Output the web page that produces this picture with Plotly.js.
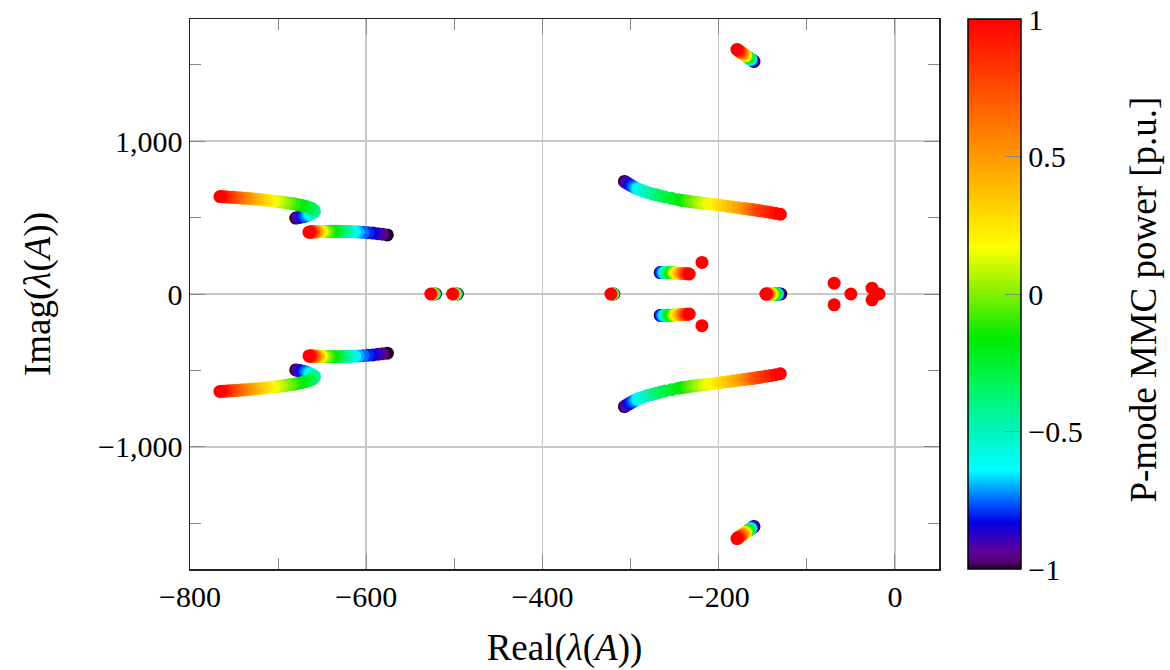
<!DOCTYPE html>
<html>
<head>
<meta charset="utf-8">
<script src="https://cdn.plot.ly/plotly-3.0.1.min.js"></script>
<style>html,body{margin:0;padding:0;background:#fff;}#chart{width:1170px;height:670px;}</style>
</head>
<body>
<div id="chart"></div>
<script>
// P-mode MMC power sweep values (colour variable)
const P41 = [-1,-0.95,-0.9,-0.85,-0.8,-0.75,-0.7,-0.65,-0.6,-0.55,-0.5,-0.45,-0.4,-0.35,-0.3,-0.25,-0.2,-0.15,-0.1,-0.05,0,
             0.05,0.1,0.15,0.2,0.25,0.3,0.35,0.4,0.45,0.5,0.55,0.6,0.65,0.7,0.75,0.8,0.85,0.9,0.95,1];
const P21 = [-1,-0.9,-0.8,-0.7,-0.6,-0.5,-0.4,-0.3,-0.2,-0.1,0,0.1,0.2,0.3,0.4,0.5,0.6,0.7,0.8,0.9,1];
const P5 = [-1,-0.5,0,0.5,1];

// Complex-pair branches (upper half; the lower half is the complex conjugate)
const A_re = [-680,-678,-676,-673.5,-671,-668.5,-666,-664,-662,-660.5,-659,-659,-660,-662,-665,-669,-673,-677.5,-682,-686.5,-691,
              -695.5,-700,-704.5,-709,-713.5,-718,-722.5,-727,-731,-735,-738.5,-742,-745.5,-749,-752,-755,-758,-761,-763.5,-766];
const A_im = [497,499,501,504,507,511,516,521,526,532,538,545,552,560,567,574,580,585,590,594,598,
              601.5,605,608,611,614,617,619.5,622,624,626,627.5,629,630.5,632,633,634,635,636,637,638];

const B_re = [-576,-581.5,-587,-592.5,-598,-603.5,-609,-613,-617,-619.5,-622,-624.5,-627,-629.5,-632,-634.5,-637,-639.5,-642,-644.5,-647,
              -648.5,-650,-651.3,-652.5,-653.5,-654.5,-655.3,-656,-656.8,-657.5,-658.3,-659,-659.8,-660.5,-661.3,-662,-662.8,-663.5,-664.3,-665];
const B_im = [387,391,395,398.5,401,403.5,405.5,407,408,408.5,409,409,409,409.5,410,410,410,410,410,409.5,409,
              409,409,408.5,408,408,408,408,408,407.5,407,407,407,407,407,406.5,406,406,406,405.5,405];

const C_re = [-307,-305.5,-304,-301.5,-299,-296.5,-294,-292,-290,-285.5,-281,-276,-271,-266,-261,-253.5,-246,-241,-236,-231.5,-227,
              -222,-217,-211.5,-206,-201,-196,-190,-184,-178,-172,-168.5,-165,-162,-159,-155.5,-152,-146.5,-141,-135.5,-130];
const C_im = [737,731,726,717,709,701,693,688,684,674,665,657,649,642,635,626,617,612.5,608,604.5,601,
              597.5,594,590.5,587,583,579,574.5,570,565,560,557.5,555,552.5,550,547,544,539,534,528,522];

const D_re = [-160,-161.2,-162.4,-163.2,-164,-164.7,-165.5,-166.3,-167.1,-167.9,-168.7,-169.5,-170.4,-171.2,-172,-173,-174.2,-175.4,-176.7,-178,-179.3];
const D_im = [1522,1527,1532,1535,1538,1541,1544,1548,1551,1554,1558,1561,1565,1568,1571,1575,1580,1585,1590,1596,1601];

const E_re = [-266.4,-265.6,-264.8,-263.2,-261,-259.5,-258,-256.5,-254.5,-252.5,-251,-249.5,-247.7,-246,-244,-242,-240.5,-239,-237,-235,-233.4];
const E_im = [140,140,140,140,140,139.5,139.5,139,139,138.5,138,137.5,137,136.5,136,135,134.5,134,133,132,131];

// Real eigenvalues
const F1_re = [-521.3,-522.5,-523.8,-525.2,-526.7];
const F2_re = [-496.5,-497.8,-499.2,-500.6,-502];
const F3_re = [-319,-319.8,-320.6,-321.5,-322.4];
const F4_re = [-129.5,-131.5,-132.7,-133.3,-134,-134.6,-135.2,-135.8,-136.5,-137.2,-138.5,-139.8,-141,-141.8,-142.6,-143.4,-144,-144.7,-145.3,-146,-146.5];

// Eigenvalues that barely move (seen at P = 1)
const S_re = [-219,-219,-69,-69,-50,-26,-26,-18];
const S_im = [207,-207,71,-71,0,38,-38,0];
const S_p  = [1,1,1,1,1,1,1,1];

// Axis ticks
const X_TICKS = [-800,-600,-400,-200,0];
const X_LABELS = ['\u2212800','\u2212600','\u2212400','\u2212200','0'];
const X_MINOR = [-700,-500,-300,-100];
const Y_TICKS = [-1000,0,1000];
const Y_LABELS = ['\u22121,000','0','1,000'];
const Y_MINOR = [-1500,-500,500,1500];
const C_TICKS = [-1,-0.5,0,0.5,1];
const C_LABELS = ['\u22121','\u22120.5','0','0.5','1'];

const xs = [], ys = [], cs = [];
function addBranch(re, im, p) {
  for (let i = 0; i < re.length; i++) { xs.push(re[i]); ys.push(im[i]); cs.push(p[i]); }
}
function addPair(re, im, p) {
  addBranch(re, im, p);
  addBranch(re, im.map(v => -v), p);
}
const zeros5 = P5.map(() => 0), zeros21 = P21.map(() => 0);
addPair(A_re, A_im, P41);
addPair(B_re, B_im, P41);
addPair(C_re, C_im, P41);
addPair(D_re, D_im, P21);
addPair(E_re, E_im, P21);
addBranch(F1_re, zeros5, P5);
addBranch(F2_re, zeros5, P5);
addBranch(F3_re, zeros5, P5);
addBranch(F4_re, zeros21, P21);
addBranch(S_re, S_im, S_p);

const cscale = [
  [0,'rgb(30,0,40)'],[0.012,'rgb(85,0,110)'],[0.035,'rgb(90,0,160)'],[0.085,'rgb(0,0,230)'],
  [0.12,'rgb(0,90,255)'],[0.18,'rgb(0,255,255)'],[0.25,'rgb(0,245,190)'],[0.335,'rgb(0,245,90)'],
  [0.42,'rgb(0,235,0)'],[0.5,'rgb(130,240,0)'],[0.585,'rgb(255,255,0)'],[0.77,'rgb(255,140,0)'],[1,'rgb(255,0,0)']
];

const CB_X = 1.0387, CB_TICK = 16 / 749;
const serif = 'Liberation Serif, Times New Roman, serif';
const trace = {
  type: 'scatter', mode: 'markers', x: xs, y: ys,
  marker: {
    size: 13, color: cs, cmin: -1, cmax: 1, colorscale: cscale, line: {width: 0},
    showscale: true,
    colorbar: {
      x: CB_X, xanchor: 'left', xpad: 0, y: 0.5, yanchor: 'middle', ypad: 0,
      len: 1, lenmode: 'fraction', thickness: 53,
      outlinewidth: 1.5, outlinecolor: '#000',
      tickmode: 'array', tickvals: C_TICKS, ticktext: C_LABELS,
      ticks: 'inside', ticklen: 16, tickcolor: '#888', tickwidth: 1,
      tickfont: {family: serif, size: 30, color: '#000'}
    }
  },
  hoverinfo: 'x+y'
};

// matching tick marks on the left side of the colour bar
const cbShapes = C_TICKS.filter(v => v > -1 && v < 1).map(v => ({
  type: 'line', xref: 'paper', yref: 'paper',
  x0: CB_X, x1: CB_X + CB_TICK, y0: (v + 1) / 2, y1: (v + 1) / 2,
  line: {color: '#888', width: 1}
}));

const axisCommon = {
  showline: true, linecolor: '#222', linewidth: 1.5, mirror: 'ticks',
  ticks: 'inside', ticklen: 15, tickcolor: '#888', tickwidth: 1,
  showgrid: true, gridcolor: '#c8c8c8', gridwidth: 1.5, zeroline: false,
  tickfont: {family: serif, size: 30, color: '#000'},
  tickmode: 'array'
};

const layout = {
  width: 1170, height: 670,
  margin: {l: 190, r: 231, t: 19, b: 101},
  paper_bgcolor: '#fff', plot_bgcolor: '#fff',
  showlegend: false,
  xaxis: Object.assign({}, axisCommon, {
    range: [-800, 50], tickvals: X_TICKS, ticktext: X_LABELS,
    minor: {tickvals: X_MINOR, ticks: 'inside', ticklen: 11, tickcolor: '#888', showgrid: false},
    title: {text: 'Real(<i>λ</i>(<i>A</i>))', font: {family: serif, size: 37, color: '#000'}, standoff: 22}
  }),
  yaxis: Object.assign({}, axisCommon, {
    range: [-1800, 1800], tickvals: Y_TICKS, ticktext: Y_LABELS,
    minor: {tickvals: Y_MINOR, ticks: 'inside', ticklen: 11, tickcolor: '#888', showgrid: false},
    title: {text: 'Imag(<i>λ</i>(<i>A</i>))', font: {family: serif, size: 37, color: '#000'}, standoff: 36}
  }),
  shapes: cbShapes,
  annotations: [{
    text: 'P-mode MMC power [p.u.]', textangle: -90,
    xref: 'paper', yref: 'paper', x: 1.2724, y: 0.49, xanchor: 'center', yanchor: 'middle',
    showarrow: false, font: {family: serif, size: 37, color: '#000'}
  }]
};

Plotly.newPlot('chart', [trace], layout, {displayModeBar: false, staticPlot: true});
</script>
</body>
</html>
